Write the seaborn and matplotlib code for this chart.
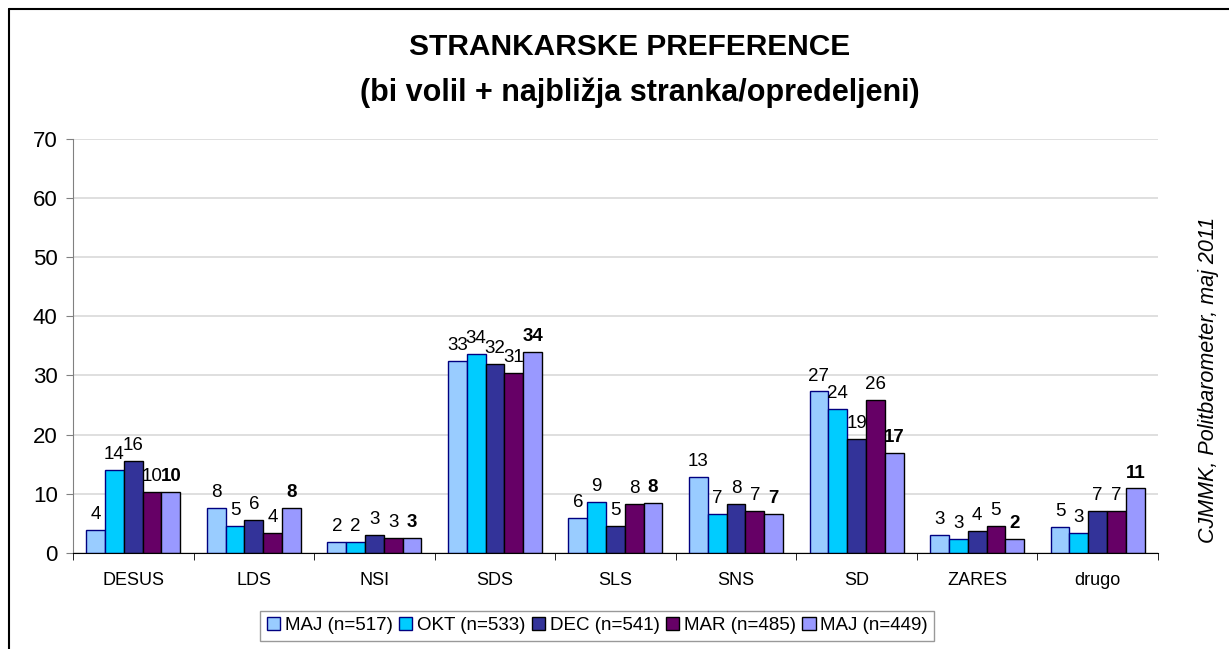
import numpy as np
import pandas as pd
import matplotlib.pyplot as plt
import seaborn as sns
from matplotlib.lines import Line2D
from matplotlib.patches import Patch

parties = ['DESUS', 'LDS', 'NSI', 'SDS', 'SLS', 'SNS', 'SD', 'ZARES', 'drugo']
waves = ['MAJ (n=517)', 'OKT (n=533)', 'DEC (n=541)', 'MAR (n=485)', 'MAJ (n=449)']

maj517 = [3.9, 7.6, 1.9, 32.4, 5.9, 12.9, 27.3, 3.1, 4.4]
okt533 = [14.0, 4.5, 1.9, 33.6, 8.6, 6.6, 24.4, 2.4, 3.4]
dec541 = [15.5, 5.6, 3.1, 31.9, 4.6, 8.2, 19.3, 3.7, 7.1]
mar485 = [10.3, 3.4, 2.6, 30.4, 8.2, 7.1, 25.9, 4.6, 7.1]
maj449 = [10.3, 7.6, 2.6, 33.9, 8.4, 6.6, 16.9, 2.4, 10.9]

# labels as printed on the chart
lab517 = [4, 8, 2, 33, 6, 13, 27, 3, 5]
lab533 = [14, 5, 2, 34, 9, 7, 24, 3, 3]
lab541 = [16, 6, 3, 32, 5, 8, 19, 4, 7]
lab485 = [10, 4, 3, 31, 8, 7, 26, 5, 7]
lab449 = [10, 8, 3, 34, 8, 7, 17, 2, 11]

series = [maj517, okt533, dec541, mar485, maj449]
labels = [lab517, lab533, lab541, lab485, lab449]
colors = ['#99CCFF', '#00CCFF', '#333399', '#660066', '#9999FF']
edges = ['#000080', '#000080', '#000000', '#000000', '#000000']

rows = []
for i, vals in enumerate(series):
    for p, v in zip(parties, vals):
        rows.append({'stranka': p, 'key': str(i), 'odstotek': v})
df = pd.DataFrame(rows)

sns.set_style('white')
plt.rcParams['font.family'] = ['Liberation Sans', 'DejaVu Sans']
plt.rcParams['text.color'] = 'black'
plt.rcParams['xtick.labelcolor'] = 'black'
plt.rcParams['ytick.labelcolor'] = 'black'

fig = plt.figure(figsize=(12.29, 6.49), dpi=100)
ax = fig.add_axes([0.0594, 0.148, 0.8828, 0.638])

sns.barplot(data=df, x='stranka', y='odstotek', hue='key', order=parties,
            hue_order=[str(i) for i in range(5)], palette=colors,
            width=0.78, saturation=1, legend=False, ax=ax)

for i, cont in enumerate(ax.containers):
    for bar in cont:
        bar.set_edgecolor(edges[i])
        bar.set_linewidth(1.0)
    ax.bar_label(cont, labels=[str(l) for l in labels[i]], padding=5, color='black',
                 fontsize=13.5, fontweight='bold' if i == 4 else 'normal')

ax.set_ylim(0, 70)
ax.set_yticks(range(0, 71, 10))
ax.set_xlim(-0.5, len(parties) - 0.5)
ax.yaxis.grid(True, color='#d9d9d9', linewidth=1.2)
ax.set_axisbelow(True)
ax.set_xlabel('')
ax.set_ylabel('')
for s in ['top', 'right']:
    ax.spines[s].set_visible(False)
ax.spines['left'].set_color('#808080')
ax.spines['bottom'].set_color('#000000')
ax.tick_params(axis='y', labelsize=16, left=True, length=5, color='#808080', pad=6)
ax.tick_params(axis='x', labelsize=13, bottom=False, length=0, pad=14)
ax.set_xticks(np.arange(-0.5, len(parties), 1), minor=True)
ax.tick_params(axis='x', which='minor', bottom=True, length=5, color='#000000')

fig.text(0.512, 0.927, 'STRANKARSKE PREFERENCE', ha='center', va='center',
         fontsize=21.5, fontweight='bold')
fig.text(0.521, 0.857, '(bi volil + najbližja stranka/opredeljeni)', ha='center',
         va='center', fontsize=22, fontweight='bold')
fig.text(0.983, 0.415, 'CJMMK, Politbarometer, maj 2011', rotation=90,
         ha='center', va='center', fontsize=15.5, fontstyle='italic')

handles = [Patch(facecolor=c, edgecolor=e, linewidth=1.0) for c, e in zip(colors, edges)]
leg = fig.legend(handles, waves, loc='center', bbox_to_anchor=(0.486, 0.036), ncol=5,
                 fontsize=13.5, frameon=True, fancybox=False, handlelength=0.7,
                 handleheight=0.7, handletextpad=0.25, columnspacing=0.35,
                 borderpad=0.35, edgecolor='#808080')
leg.get_frame().set_linewidth(1.0)

# outer frame: only left and top edges fall inside the image
fig.add_artist(Line2D([0.0073, 0.0073], [0.0, 0.9862], transform=fig.transFigure,
                      color='black', linewidth=1.5))
fig.add_artist(Line2D([0.0073, 1.0], [0.9862, 0.9862], transform=fig.transFigure,
                      color='black', linewidth=1.5))

fig.savefig('out.png', dpi=100)
